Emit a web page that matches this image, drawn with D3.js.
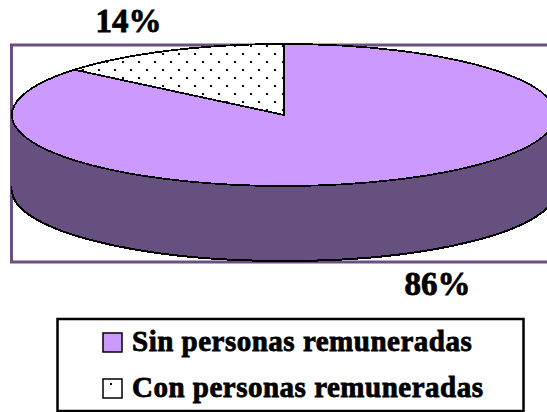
<!DOCTYPE html>
<html>
<head>
<meta charset="utf-8">
<script src="https://cdn.jsdelivr.net/npm/d3@7"></script>
<style>
  html, body { margin: 0; padding: 0; background: #fff; }
  svg { display: block; }
  text { font-family: "Liberation Serif", serif; font-weight: bold; fill: #000; stroke: #000; stroke-width: 0.8; }
</style>
</head>
<body>
<div id="chart"></div>
<script>
const categories = ['Sin personas remuneradas', 'Con personas remuneradas'];
const values = [86, 14];
const valueLabels = ['86%', '14%'];

const width = 547, height = 412;
const cx = 284, cy = 115, rx = 272, ry = 71, depth = 75;
const colorTop = '#cc99ff', colorSide = '#66507f';

const svg = d3.select('#chart').append('svg')
  .attr('width', width)
  .attr('height', height)
  .attr('viewBox', [0, 0, width, height]);

// trama de puntos
const defs = svg.append('defs');
const dots = defs.append('pattern')
  .attr('id', 'dots')
  .attr('patternUnits', 'userSpaceOnUse')
  .attr('width', 16).attr('height', 16);
dots.append('rect').attr('width', 16).attr('height', 16).attr('fill', '#fff');
dots.append('rect').attr('x', 2).attr('y', 5).attr('width', 2).attr('height', 2).attr('fill', '#000');
dots.append('rect').attr('x', 10).attr('y', 13).attr('width', 2).attr('height', 2).attr('fill', '#000');

// marco
svg.append('rect')
  .attr('x', 11.5).attr('y', 45)
  .attr('width', 560).attr('height', 217)
  .attr('fill', '#fff')
  .attr('stroke', '#6a5080')
  .attr('stroke-width', 3);

const pie = d3.pie().sort(null).value(d => d);
const slices = pie(values);
const arc = d3.arc().innerRadius(0).outerRadius(1);

// pared lateral
svg.append('path')
  .attr('transform', `translate(${cx},${cy + depth}) scale(${rx},${ry})`)
  .attr('d', arc({ startAngle: 0, endAngle: 2 * Math.PI }))
  .attr('fill', colorSide)
  .attr('stroke', '#000')
  .attr('stroke-width', 2)
  .attr('shape-rendering', 'crispEdges')
  .attr('vector-effect', 'non-scaling-stroke');

svg.append('rect')
  .attr('x', cx - rx).attr('y', cy)
  .attr('width', 2 * rx).attr('height', depth)
  .attr('fill', colorSide);

// cara superior
const topFace = svg.append('g');
topFace.selectAll('path')
  .data(slices)
  .join('path')
  .attr('transform', `translate(${cx},${cy}) scale(${rx},${ry})`)
  .attr('d', arc)
  .attr('fill', colorTop)
  .attr('stroke', '#000')
  .attr('stroke-width', 1.8)
  .attr('stroke-linejoin', 'round')
  .attr('shape-rendering', 'crispEdges')
  .attr('vector-effect', 'non-scaling-stroke');

// la porcion de puntos va en coordenadas de pantalla para no deformar la trama
const sl = slices[1];
const pts = d3.range(41).map(i => {
  const a = sl.startAngle + (sl.endAngle - sl.startAngle) * i / 40;
  return [cx + rx * Math.sin(a), cy - ry * Math.cos(a)];
});
topFace.append('path')
  .attr('d', d3.line()([[cx, cy], ...pts]) + 'Z')
  .attr('fill', 'url(#dots)')
  .attr('stroke', '#000')
  .attr('stroke-width', 1.8)
  .attr('stroke-linejoin', 'round')
  .attr('shape-rendering', 'crispEdges');

// etiquetas de valor
svg.append('text').attr('x', 128.5).attr('y', 32)
  .attr('text-anchor', 'middle').attr('font-size', 33)
  .text(valueLabels[1]);
svg.append('text').attr('x', 437.5).attr('y', 295)
  .attr('text-anchor', 'middle').attr('font-size', 33)
  .text(valueLabels[0]);

// leyenda
svg.append('rect')
  .attr('x', 57.5).attr('y', 319)
  .attr('width', 466).attr('height', 92)
  .attr('fill', '#fff')
  .attr('stroke', '#000')
  .attr('stroke-width', 2.5);

const legendY = d3.scaleBand().domain(categories).range([319, 411]);
const legend = svg.append('g').selectAll('g')
  .data(categories)
  .join('g')
  .attr('transform', d => `translate(0,${legendY(d)})`);

legend.append('rect')
  .attr('x', 103).attr('y', 14)
  .attr('width', 19).attr('height', 19)
  .attr('fill', (d, i) => i === 0 ? colorTop : '#fff')
  .attr('stroke', '#000')
  .attr('stroke-width', 1.5);

legend.filter((d, i) => i === 1).append('rect')
  .attr('x', 110).attr('y', 18)
  .attr('width', 2).attr('height', 2)
  .attr('fill', '#000');

legend.append('text')
  .attr('x', 132).attr('y', 31.5)
  .attr('font-size', 29)
  .attr('letter-spacing', 0.5)
  .text(d => d);
</script>
</body>
</html>
